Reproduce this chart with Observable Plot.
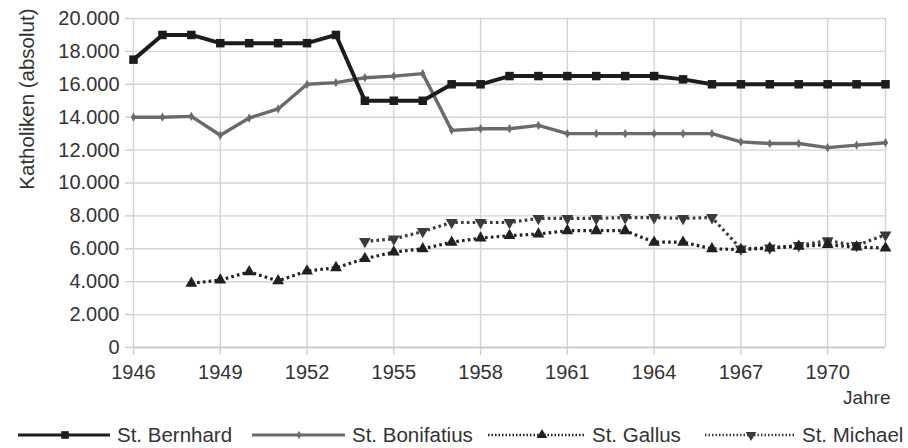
<!DOCTYPE html>
<html>
<head>
<meta charset="utf-8">
<script src="https://cdn.jsdelivr.net/npm/d3@7"></script>
<script src="https://cdn.jsdelivr.net/npm/@observablehq/plot@0.6"></script>
<style>
  html, body { margin: 0; padding: 0; background: #fff; }
  #chart { width: 908px; }
  .legend { position: relative; height: 30px; font-family: "Liberation Sans", Arial, sans-serif; font-size: 20.5px; color: #333; }
  .legend .item { display: flex; align-items: center; position: absolute; }
  .legend svg { display: block; }
</style>
</head>
<body>
<div id="chart"></div>
<script>
// Katholiken je Gemeinde, 1946–1972
const years = d3.range(1946, 1973);

const bernhard = [17500, 19000, 19000, 18500, 18500, 18500, 18500, 19000, 15000, 15000,
  15000, 16000, 16000, 16500, 16500, 16500, 16500, 16500, 16500, 16300, 16000, 16000,
  16000, 16000, 16000, 16000, 16000];
const bonifatius = [14000, 14000, 14050, 12900, 13950, 14500, 16000, 16100, 16400, 16500,
  16650, 13200, 13300, 13300, 13500, 13000, 13000, 13000, 13000, 13000, 13000, 12500,
  12400, 12400, 12150, 12300, 12450];
// St. Gallus from 1948, St. Michael from 1954
const gallusYears = d3.range(1948, 1973);
const gallus = [3900, 4100, 4600, 4050, 4650, 4850, 5400, 5800, 6000, 6400, 6650, 6800,
  6900, 7100, 7100, 7100, 6400, 6400, 6000, 5950, 6050, 6150, 6250, 6100, 6050];
const michaelYears = d3.range(1954, 1973);
const michael = [6450, 6600, 7050, 7600, 7600, 7600, 7850, 7850, 7850, 7900, 7900, 7850,
  7900, 6000, 6050, 6200, 6500, 6200, 6850];

const seriesNames = ["St. Bernhard", "St. Bonifatius", "St. Gallus", "St. Michael"];
const xTicks = d3.range(1946, 1971, 3);
const xGrid = [...xTicks, 1972];
const yTicks = d3.range(0, 20001, 2000);
const yTitle = "Katholiken (absolut)";
const xTitle = "Jahre";

const styles = {
  "St. Bernhard":   {stroke: "#1c1c1c", width: 4,   dash: null,  symbol: "square",   r: 4.8, rotate: 0},
  "St. Bonifatius": {stroke: "#6a6a6a", width: 3.4, dash: null,  symbol: "diamond",  r: 2.8, rotate: 0},
  "St. Gallus":     {stroke: "#202020", width: 3.2, dash: "2.6,3.2", symbol: "triangle", r: 4.4, rotate: 0},
  "St. Michael":    {stroke: "#3a3a3a", width: 3.2, dash: "2.6,3.2", symbol: "triangle", r: 4.4, rotate: 180}
};

const rows = [
  ...years.map((y, i) => ({series: "St. Bernhard", year: y, value: bernhard[i]})),
  ...years.map((y, i) => ({series: "St. Bonifatius", year: y, value: bonifatius[i]})),
  ...gallusYears.map((y, i) => ({series: "St. Gallus", year: y, value: gallus[i]})),
  ...michaelYears.map((y, i) => ({series: "St. Michael", year: y, value: michael[i]}))
];

const de = d3.formatLocale({decimal: ",", thousands: ".", grouping: [3], currency: ["", " €"]});
const fmt = de.format(",d");

const seriesMarks = seriesNames.slice().reverse().flatMap(name => {
  const s = styles[name];
  const data = rows.filter(d => d.series === name);
  return [
    Plot.line(data, {x: "year", y: "value", stroke: s.stroke, strokeWidth: s.width,
      strokeDasharray: s.dash, strokeLinejoin: "round", strokeLinecap: s.dash ? "butt" : "round"}),
    Plot.dot(data, {x: "year", y: "value", symbol: s.symbol, r: s.r, rotate: s.rotate,
      fill: s.stroke, stroke: "none"})
  ];
});

const plot = Plot.plot({
  width: 908,
  height: 418,
  marginLeft: 133,
  marginRight: 23,
  marginTop: 18,
  marginBottom: 71,
  style: {fontFamily: "'Liberation Sans', Arial, sans-serif", fontSize: "20px", color: "#333", background: "#fff"},
  x: {domain: [1946, 1972]},
  y: {domain: [0, 20000]},
  marks: [
    Plot.ruleY(yTicks, {y: d => d, x1: 1946, x2: 1972, stroke: "#d4d4d4", strokeWidth: 1.4}),
    Plot.ruleX(xGrid, {x: d => d, y1: 0, y2: 20000, stroke: "#d4d4d4", strokeWidth: 1.4}),
    Plot.axisX({ticks: xTicks, tickFormat: d => String(d), tickSize: 8, tickPadding: 9,
      stroke: "#cfcfcf", strokeWidth: 1.4, label: null}),
    Plot.axisY({ticks: yTicks, tickFormat: fmt, tickSize: 8, tickPadding: 6,
      stroke: "#cfcfcf", strokeWidth: 1.4, label: null}),
    Plot.ruleY([0], {stroke: "#c8c8c8", strokeWidth: 1.6}),
    Plot.text([yTitle], {frameAnchor: "top-left", dx: -114, dy: -10, rotate: -90,
      textAnchor: "end", fontSize: 20.5, fill: "#333"}),
    Plot.text([xTitle], {frameAnchor: "bottom-right", dx: 5, dy: 56, textAnchor: "end",
      fontSize: 19, fill: "#333"}),
    ...seriesMarks
  ]
});
document.getElementById("chart").appendChild(plot);

// Legend row beneath the chart
const legendPos = {
  "St. Bernhard":   {x: 18,  len: 92,  mark: 47},
  "St. Bonifatius": {x: 252, len: 93,  mark: 47},
  "St. Gallus":     {x: 488, len: 97,  mark: 54},
  "St. Michael":    {x: 705, len: 90,  mark: 46}
};
const legend = d3.select("#chart").append("div").attr("class", "legend");
for (const name of seriesNames) {
  const s = styles[name];
  const p = legendPos[name];
  const item = legend.append("div").attr("class", "item").style("left", p.x + "px").style("top", "5px");
  const svg = item.append("svg").attr("width", p.len).attr("height", 20);
  svg.append("line").attr("x1", 0).attr("x2", p.len).attr("y1", 10).attr("y2", 10)
    .attr("stroke", s.stroke).attr("stroke-width", s.dash ? 2.4 : 3)
    .attr("stroke-dasharray", s.dash ? "1.5,2" : null);
  const sym = {square: d3.symbolSquare, diamond: d3.symbolDiamond, triangle: d3.symbolTriangle}[s.symbol];
  svg.append("path").attr("d", d3.symbol(sym, Math.PI * s.r * s.r * 0.8)())
    .attr("transform", `translate(${p.mark},10) rotate(${s.rotate})`).attr("fill", s.stroke);
  item.append("span").text(name).style("margin-left", "7px");
}
</script>
</body>
</html>
